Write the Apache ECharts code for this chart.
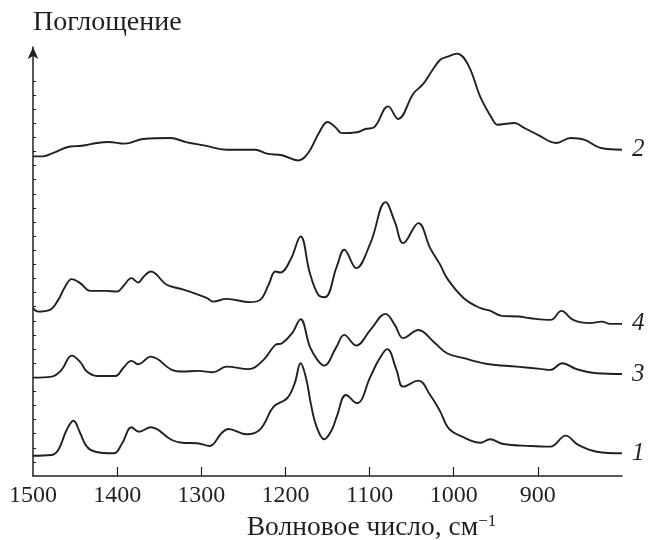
<!DOCTYPE html>
<html>
<head>
<meta charset="utf-8">
<script src="https://cdn.jsdelivr.net/npm/echarts@6/dist/echarts.min.js"></script>
<style>
  html, body { margin: 0; padding: 0; background: #fff; }
  #chart { width: 648px; height: 540px; }
</style>
</head>
<body>
<div id="chart"></div>
<script>
// Spectra: [wavenumber, absorbance (arb. units)]
var curve1 = [
    [1500, 1.44], [1478, 1.49], [1470, 1.84], [1460, 3.26], [1452, 3.92], [1444, 3.05], [1436, 2.08],
    [1426, 1.72], [1404, 1.61], [1394, 2.32], [1383, 3.45], [1374, 3.14], [1360, 3.45], [1335, 2.55],
    [1323, 2.36], [1305, 2.32], [1290, 2.13], [1276, 3.03], [1268, 3.33], [1246, 2.96], [1230, 3.31],
    [1214, 4.91], [1198, 5.51], [1189, 6.57], [1182, 7.99], [1175, 6.81], [1170, 5.18], [1163, 3.50],
    [1154, 2.60], [1145, 3.26], [1139, 4.21], [1128, 5.74], [1115, 5.16], [1099, 7.04], [1089, 8.23],
    [1079, 8.99], [1068, 7.52], [1060, 6.33], [1042, 6.76], [1028, 5.74], [1016, 4.56], [1006, 3.38],
    [990, 2.79], [968, 2.36], [957, 2.60], [941, 2.27], [909, 2.13], [885, 2.08], [867, 2.86],
    [852, 2.20], [830, 1.72], [800, 1.61]
];
var curve3 = [
    [1500, 6.97], [1478, 7.04], [1466, 7.52], [1454, 8.53], [1444, 8.09], [1436, 7.40], [1424, 7.09],
    [1402, 7.09], [1393, 7.64], [1383, 8.16], [1375, 7.92], [1360, 8.46], [1335, 7.52], [1323, 7.40],
    [1303, 7.45], [1286, 7.35], [1270, 7.75], [1244, 7.57], [1226, 8.23], [1212, 9.29], [1204, 9.41],
    [1192, 10.12], [1182, 11.11], [1171, 9.17], [1162, 8.23], [1154, 7.82], [1140, 9.08], [1130, 10.0],
    [1116, 9.24], [1099, 10.35], [1081, 11.49], [1070, 10.71], [1060, 9.77], [1042, 10.35], [1024, 9.52],
    [1008, 8.70], [988, 8.35], [960, 7.94], [925, 7.75], [897, 7.59], [885, 7.52], [871, 7.99],
    [854, 7.57], [830, 7.28], [800, 7.23]
];
var curve4 = [
    [1500, 11.89], [1494, 11.65], [1480, 11.77], [1470, 12.48], [1462, 13.40], [1454, 13.95], [1444, 13.67],
    [1432, 13.12], [1414, 13.12], [1400, 13.07], [1393, 13.43], [1383, 14.02], [1375, 13.71], [1369, 14.09],
    [1360, 14.49], [1341, 13.55], [1323, 13.24], [1303, 12.84], [1293, 12.60], [1286, 12.36], [1270, 12.55],
    [1242, 12.32], [1230, 12.48], [1220, 13.55], [1212, 14.49], [1206, 14.42], [1194, 15.32], [1182, 16.97],
    [1171, 14.38], [1161, 12.84], [1153, 12.67], [1139, 14.84], [1130, 16.03], [1116, 14.73], [1099, 16.50],
    [1081, 19.41], [1070, 18.01], [1060, 16.50], [1042, 17.92], [1028, 16.15], [1016, 14.96], [1008, 14.02],
    [988, 12.60], [968, 11.89], [957, 11.72], [943, 11.35], [923, 11.30], [909, 11.18], [885, 11.06],
    [872, 11.70], [858, 11.06], [838, 10.83], [824, 10.94], [814, 10.78], [800, 10.78]
];
var curve2 = [
    [1500, 22.65], [1488, 22.65], [1476, 22.89], [1456, 23.35], [1442, 23.40], [1424, 23.60], [1410, 23.67],
    [1391, 23.55], [1369, 23.88], [1337, 23.95], [1317, 23.64], [1297, 23.43], [1270, 23.12], [1236, 23.12],
    [1222, 22.84], [1204, 22.73], [1185, 22.36], [1173, 22.89], [1160, 24.33], [1150, 25.09], [1140, 24.68],
    [1133, 24.30], [1115, 24.36], [1105, 24.59], [1095, 24.70], [1078, 26.19], [1066, 25.30], [1048, 27.09],
    [1036, 27.80], [1025, 28.79], [1016, 29.50], [1008, 29.70], [996, 29.93], [983, 29.15], [968, 26.81],
    [955, 25.39], [948, 24.89], [938, 24.96], [928, 25.01], [916, 24.66], [900, 24.18], [878, 23.60],
    [861, 23.95], [845, 23.83], [825, 23.24], [800, 23.12]
];
var xLabels = [1500, 1400, 1300, 1200, 1100, 1000, 900];
var xTicks = [1400, 1300, 1200, 1100, 1000, 900];
var yTicks = [1, 2, 3, 4, 5, 6, 7, 8, 9, 10, 11, 12, 13, 14, 15, 16, 17, 18, 19, 20, 21, 22, 23, 24, 25, 26, 27, 28];

var ink = '#231f20';
var serif = 'Liberation Serif, DejaVu Serif, serif';

var chart = echarts.init(document.getElementById('chart'));

function spectrum(name, data) {
    return {
        name: name,
        type: 'line',
        data: data,
        smooth: 0.4,
        showSymbol: false,
        lineStyle: { color: ink, width: 1.9 },
        endLabel: {
            show: true,
            formatter: '{a}',
            align: 'left',
            offset: [18, 0],
            fontFamily: serif,
            fontStyle: 'italic',
            fontSize: 25,
            color: ink
        }
    };
}

chart.setOption({
    animation: false,
    title: {
        text: 'Поглощение',
        left: 28,
        top: 4,
        textStyle: { fontFamily: serif, fontSize: 28, fontWeight: 'normal', color: ink }
    },
    grid: { left: 33, right: 26, top: 47, bottom: 64, outerBoundsMode: 'none' },
    xAxis: {
        type: 'value',
        inverse: true,
        min: 800,
        max: 1500,
        name: 'Волновое число, см{sup|−1}',
        nameLocation: 'middle',
        nameGap: 36,
        nameTextStyle: {
            fontFamily: serif,
            fontSize: 27.5,
            color: ink,
            padding: [0, 0, 0, 88],
            rich: {
                sup: { fontFamily: serif, fontSize: 17, color: ink, verticalAlign: 'top', padding: [0, 0, 12, 0] }
            }
        },
        splitLine: { show: false },
        axisLine: { lineStyle: { color: ink, width: 1.5 } },
        axisTick: { inside: true, length: 9, customValues: xTicks, lineStyle: { color: ink, width: 1.2 } },
        axisLabel: {
            customValues: xLabels,
            margin: 8,
            fontFamily: serif,
            fontSize: 24,
            color: ink,
            formatter: function (v) { return String(v); }
        }
    },
    yAxis: {
        type: 'value',
        min: 0,
        max: 30.4,
        splitLine: { show: false },
        axisLine: {
            show: true,
            symbol: ['none', 'arrow'],
            symbolSize: [8, 12],
            lineStyle: { color: ink, width: 1.5 }
        },
        axisTick: { show: true, inside: true, length: 3, customValues: yTicks, lineStyle: { color: ink, width: 1 } },
        axisLabel: { show: false }
    },
    series: [
        spectrum('1', curve1),
        spectrum('3', curve3),
        spectrum('4', curve4),
        spectrum('2', curve2)
    ]
});
</script>
</body>
</html>
